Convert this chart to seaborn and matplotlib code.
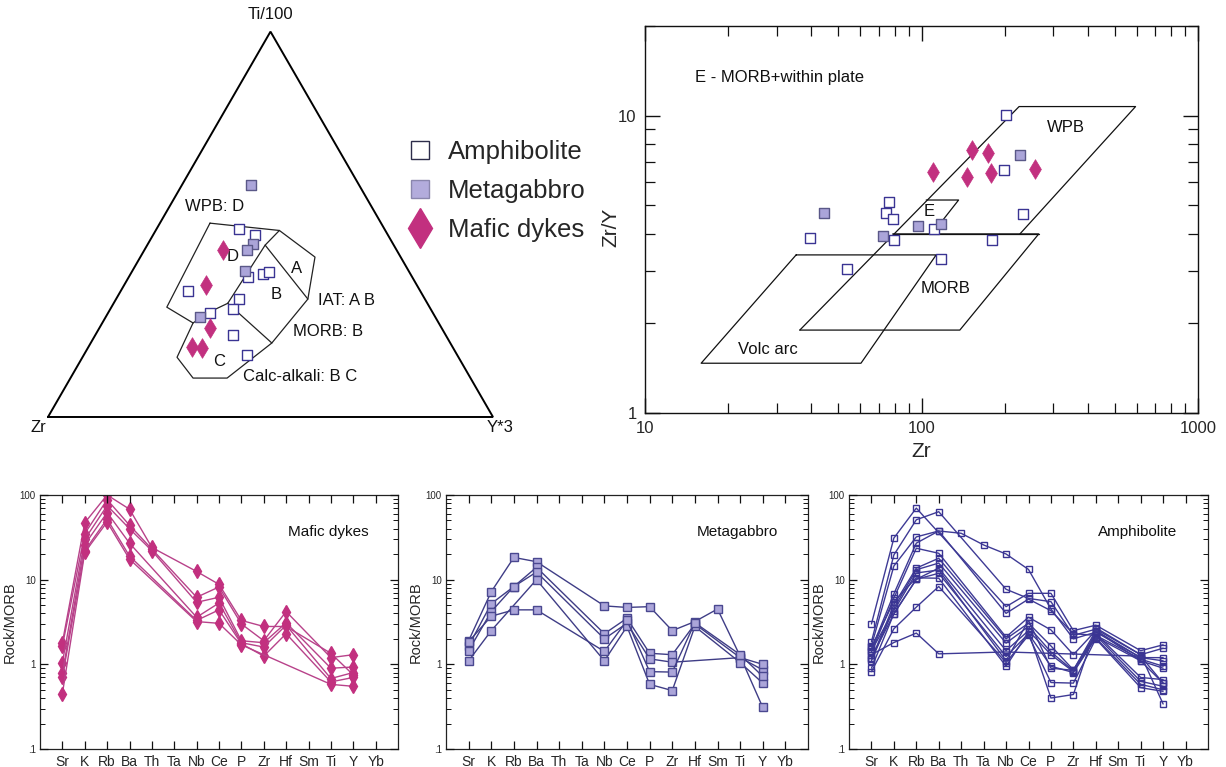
import numpy as np
import pandas as pd
import matplotlib
matplotlib.use("Agg")
import matplotlib.pyplot as plt
from matplotlib.lines import Line2D
from matplotlib.ticker import FixedLocator, FixedFormatter, LogLocator, NullFormatter
import seaborn as sns

sns.set_theme(style="ticks")
plt.rcParams["font.family"] = ["Liberation Sans", "DejaVu Sans"]
plt.rcParams.update({
    "xtick.bottom": True, "xtick.top": True, "ytick.left": True, "ytick.right": True,
    "xtick.direction": "in", "ytick.direction": "in", "axes.axisbelow": False,
})

# ---------------- Ti/100 - Zr - Y*3 ternary (percent) ----------------
amph_ti = [48.9, 47.2, 32.6, 36.2, 37.0, 37.6, 30.5, 27.9, 26.9, 21.2, 16.1]
amph_zr = [32.6, 29.9, 52.2, 36.9, 33.1, 31.5, 41.8, 44.4, 50.1, 47.9, 47.2]
amph_y = [18.5, 22.9, 15.2, 26.9, 29.9, 30.9, 27.7, 27.7, 23.0, 30.9, 36.7]

gab_ti = [60.1, 45.0, 43.4, 37.9, 26.0]
gab_zr = [24.4, 31.4, 33.5, 36.8, 52.8]
gab_y = [15.5, 23.6, 23.1, 25.3, 21.2]

dyke_ti = [43.3, 34.2, 23.1, 18.1, 17.8]
dyke_zr = [39.0, 47.4, 52.0, 58.7, 56.4]
dyke_y = [17.7, 18.4, 24.9, 23.2, 25.8]

# discrimination fields (Ti, Zr, Y)
field_outline = [(50.3, 38.45, 11.25), (48.4, 23.8, 27.8), (41.5, 19.25, 39.25),
                 (30.6, 26.3, 43.1), (19.2, 40.1, 40.7), (10.1, 54.7, 35.2),
                 (10.1, 62.35, 27.55), (15.5, 63.25, 21.25), (24.4, 55.2, 20.4),
                 (28.5, 59.05, 12.45), (50.3, 38.45, 11.25)]
field_d_b = [(48.4, 23.8, 27.8), (44.6, 28.9, 26.5), (29.5, 44.85, 25.65)]
field_c_d = [(29.5, 44.85, 25.65), (27.3, 49.95, 22.75), (24.4, 55.2, 20.4)]
field_c_b = [(29.5, 44.85, 25.65), (19.2, 40.1, 40.7)]
field_a_b = [(44.6, 28.9, 26.5), (30.6, 26.3, 43.1)]

# ---------------- Zr vs Zr/Y ----------------
amph_zr_ppm = [202.8, 199, 76.0, 74.3, 78.7, 39.5, 79.4, 111.1, 53.8, 117.9, 180.4, 232.8]
amph_zry = [10.05, 6.54, 5.12, 4.72, 4.48, 3.89, 3.83, 4.15, 3.06, 3.29, 3.83, 4.65]
gab_zr_ppm = [44.3, 72.4, 97.4, 117.9, 227]
gab_zry = [4.72, 3.93, 4.26, 4.33, 7.38]
dyke_zr_ppm = [110.4, 151.7, 173.3, 145.5, 179, 257]
dyke_zry = [6.46, 7.67, 7.5, 6.21, 6.42, 6.63]

wpb_zr = [36.3, 225.4, 594.6, 227]
wpb_zry = [1.90, 10.72, 10.72, 4.0]
morb_zr = [78.7, 265.5, 137.6, 36.3]
morb_zry = [4.0, 4.0, 1.90, 1.90]
volc_zr = [35.2, 113, 60.4, 15.96, 35.2]
volc_zry = [3.40, 3.40, 1.47, 1.47, 3.40]
e_zr = [104, 136.2, 116]
e_zry = [5.2, 5.2, 4.3]

# ---------------- MORB-normalised spidergrams ----------------
elements = ["Sr", "K", "Rb", "Ba", "Th", "Ta", "Nb", "Ce", "P", "Zr", "Hf", "Sm", "Ti", "Y", "Yb"]
nan = np.nan
dyke_spider = [
    [1.8, 47, 100, 68, 24, nan, 12.5, 8.8, 3.3, 2.8, 2.8, nan, 1.35, 0.75, nan],
    [1.65, 35, 88, 44, 23, nan, 6.2, 8.2, 3.0, 1.9, 4.2, nan, 1.2, 1.3, nan],
    [1.05, 30, 75, 40, 22, nan, 5.4, 6.2, 1.9, 1.8, 3.1, nan, 0.9, 0.93, nan],
    [0.78, 26, 62, 27, nan, nan, 3.6, 5.3, 1.8, 1.6, 2.9, nan, 0.68, 0.8, nan],
    [0.7, 22, 52, 19, nan, nan, 3.3, 4.4, 1.75, 1.25, 2.3, nan, 0.62, 0.7, nan],
    [0.45, 21, 48, 17.5, nan, nan, 3.2, 3.05, 1.7, nan, nan, nan, 0.58, 0.55, nan],
]
gab_spider = [
    [1.9, 7.2, 18.3, 16.3, nan, nan, 4.9, 4.7, 4.8, 2.5, 3.2, 4.5, 1.25, 0.31, nan],
    [1.65, 5.2, 8.3, 14, nan, nan, 2.3, 3.5, 1.35, 1.3, 3.0, nan, 1.2, 0.86, nan],
    [1.45, 4.2, 8.3, 12.3, nan, nan, 2.0, 3.06, 1.16, 1.06, nan, nan, 1.2, 1.0, nan],
    [1.1, 2.5, nan, 10.0, nan, nan, 1.1, 2.8, 0.58, 0.49, 2.8, nan, 1.05, 0.6, nan],
    [1.85, 3.7, 4.4, 4.4, nan, nan, 1.42, 3.3, 0.82, 0.81, 3.1, nan, 1.3, 0.72, nan],
]
amph_spider = [
    [3.0, 31, 70, nan, nan, nan, 4.8, 6.9, 6.9, 2.5, 2.9, nan, 1.45, 1.7, nan],
    [1.85, 19.6, 51, 63.5, nan, nan, 7.7, 6.0, 5.5, 2.2, 2.6, nan, 1.3, 1.55, nan],
    [1.65, 14.5, 32, 37.6, 35.3, 25.7, 20.1, 13.2, 4.5, 2.0, 2.4, nan, 1.2, 1.2, nan],
    [1.5, 6.8, 27, 37.6, nan, nan, 4.0, 5.9, 4.3, 2.3, 2.2, nan, 1.15, 0.95, nan],
    [1.4, 6.05, 23.5, 20.5, nan, nan, 2.1, 3.6, 2.55, 1.3, 2.5, nan, 1.1, 0.6, nan],
    [1.15, 5.05, 13.7, 17.9, nan, nan, 2.0, 3.06, 1.65, 0.86, 2.3, nan, 0.7, 0.66, nan],
    [1.1, 4.6, 13.1, 15.7, nan, nan, 1.78, 2.8, 1.4, 0.84, 2.2, nan, 0.63, 0.55, nan],
    [1.2, 3.95, 10.1, 13.7, nan, nan, 1.45, 2.5, 1.3, 0.82, 2.1, nan, 1.1, 0.9, nan],
    [0.9, 3.95, 10.1, 11.9, nan, nan, 1.24, 2.3, 0.95, 0.8, 2.05, nan, 0.58, 0.5, nan],
    [0.82, 2.63, 4.74, 8.3, nan, nan, 1.05, 2.2, 0.61, 0.6, 2.0, nan, 0.53, 0.48, nan],
    [1.3, 1.81, 2.34, 1.33, nan, nan, 1.4, nan, nan, nan, nan, nan, 1.25, 0.6, nan],
    [1.6, 5.5, 10.5, 10.4, nan, nan, 0.95, 2.4, 0.4, 0.44, 2.7, nan, 1.3, 0.34, nan],
    [1.45, 4.3, 12.0, 13.0, nan, nan, 1.1, 3.3, 0.9, 0.85, 2.5, nan, 1.2, 1.1, nan],
]

DYKE = "#c2307f"
DYKE_LINE = "#b8428a"
GAB_FILL = "#aba5d9"
GAB_EDGE = "#4a4890"
GAB_LINE = "#3f3d86"
AMPH_EDGE = "#3a3493"
AMPH_LINE = "#3e3a95"
INK = "#111111"

W, H = 1226, 767
fig = plt.figure(figsize=(W / 100, H / 100), dpi=100)
fig.patch.set_facecolor("white")


def fig_rect(left, top, right, bottom):
    return [left / W, 1 - bottom / H, (right - left) / W, (bottom - top) / H]


def box_ticks(ax):
    ax.xaxis.set_ticks_position("both")
    ax.yaxis.set_ticks_position("both")
    ax.tick_params(which="both", direction="in", bottom=True, left=True, top=True,
                   right=True, color=INK)


# ---------------- ternary ----------------
SQ3 = np.sqrt(3) / 2


def tern(ti, zr, y):
    ti, zr, y = (np.asarray(v, float) for v in (ti, zr, y))
    tot = ti + zr + y
    return y / tot + 0.5 * ti / tot, SQ3 * ti / tot


axt = fig.add_axes(fig_rect(20, 10, 520, 440))
axt.set_xlim(-0.0629, 1.0607)
axt.set_ylim(-0.0517, 0.9146)
axt.axis("off")
axt.plot([0, 1, 0.5, 0], [0, 0, SQ3, 0], color="black", lw=1.4, solid_joinstyle="miter")
for poly in (field_outline, field_d_b, field_c_d, field_c_b, field_a_b):
    px, py = tern(*zip(*poly))
    axt.plot(px, py, color="#222222", lw=0.9)

tx, ty = tern(amph_ti, amph_zr, amph_y)
sns.scatterplot(x=tx, y=ty, ax=axt, marker="s", s=62, facecolor="white",
                edgecolor=AMPH_EDGE, linewidth=1.0, zorder=3)
tx, ty = tern(gab_ti, gab_zr, gab_y)
sns.scatterplot(x=tx, y=ty, ax=axt, marker="s", s=62, color=GAB_FILL,
                edgecolor="#5a5888", linewidth=1.0, zorder=4)
tx, ty = tern(dyke_ti, dyke_zr, dyke_y)
sns.scatterplot(x=tx, y=ty, ax=axt, marker="d", s=100, color=DYKE,
                edgecolor=DYKE, linewidth=0.5, zorder=4)

lab = dict(fontsize=12, color=INK)
axt.text(0.4989, 0.9034, "Ti/100", ha="center", va="center", **lab)
axt.text(-0.0225, -0.0247, "Zr", ha="center", va="center", **lab)
axt.text(1.0157, -0.0247, "Y*3", ha="center", va="center", **lab)
axt.text(0.3079, 0.4719, "WPB: D", ha="left", va="center", **lab)
axt.text(0.4157, 0.3602, "D", ha="center", va="center", **lab)
axt.text(0.5589, 0.3342, "A", ha="center", va="center", **lab)
axt.text(0.5124, 0.2742, "B", ha="center", va="center", **lab)
axt.text(0.385, 0.1258, "C", ha="center", va="center", **lab)
axt.text(0.6067, 0.2629, "IAT: A B", ha="left", va="center", **lab)
axt.text(0.5506, 0.1917, "MORB: B", ha="left", va="center", **lab)
axt.text(0.4375, 0.0906, "Calc-alkali: B C", ha="left", va="center", **lab)

handles = [
    Line2D([], [], ls="none", marker="s", markersize=13, markerfacecolor="white",
           markeredgecolor="#2d2d4a", markeredgewidth=1.0),
    Line2D([], [], ls="none", marker="s", markersize=13, markerfacecolor="#b3acdc",
           markeredgecolor="#8a86ad", markeredgewidth=1.0),
    Line2D([], [], ls="none", marker="d", markersize=20, markerfacecolor=DYKE,
           markeredgecolor=DYKE),
]
fig.legend(handles, ["Amphibolite", "Metagabbro", "Mafic dykes"], loc="center left",
           bbox_to_anchor=(407 / W, 1 - 191 / H), bbox_transform=fig.transFigure,
           frameon=False, fontsize=18.5, handlelength=1.0, handletextpad=0.6,
           labelspacing=0.6, borderpad=0, borderaxespad=0)

# ---------------- Zr vs Zr/Y ----------------
axz = fig.add_axes(fig_rect(645, 26, 1198, 413))
axz.set_xscale("log")
axz.set_yscale("log")
for xs, ys in ((wpb_zr, wpb_zry), (morb_zr, morb_zry), (volc_zr, volc_zry), (e_zr, e_zry)):
    axz.plot(xs, ys, color=INK, lw=0.9)
axz.plot([morb_zr[0], morb_zr[1]], [morb_zry[0], morb_zry[1]], color=INK, lw=0.9)

sns.scatterplot(x=amph_zr_ppm, y=amph_zry, ax=axz, marker="s", s=62, facecolor="white",
                edgecolor=AMPH_EDGE, linewidth=1.0, zorder=3)
sns.scatterplot(x=gab_zr_ppm, y=gab_zry, ax=axz, marker="s", s=62, color=GAB_FILL,
                edgecolor="#5a5888", linewidth=1.0, zorder=4)
sns.scatterplot(x=dyke_zr_ppm, y=dyke_zry, ax=axz, marker="d", s=100, color=DYKE,
                edgecolor=DYKE, linewidth=0.5, zorder=4)

axz.set_xlim(10, 1000)
axz.set_ylim(1, 20)
axz.xaxis.set_major_locator(FixedLocator([10, 100, 1000]))
axz.xaxis.set_major_formatter(FixedFormatter(["10", "100", "1000"]))
axz.xaxis.set_minor_locator(FixedLocator([m * d for d in (10, 100) for m in range(2, 10)]))
axz.xaxis.set_minor_formatter(NullFormatter())
axz.yaxis.set_major_locator(FixedLocator([1, 10]))
axz.yaxis.set_major_formatter(FixedFormatter(["1", "10"]))
axz.yaxis.set_minor_locator(FixedLocator([m for m in range(2, 10)] + [20]))
axz.yaxis.set_minor_formatter(NullFormatter())
box_ticks(axz)
axz.tick_params(which="major", length=11, width=1.0, labelsize=12, pad=6)
axz.tick_params(which="minor", length=7, width=0.9)
for sp in axz.spines.values():
    sp.set_color(INK)
    sp.set_linewidth(1.0)
axz.set_xlabel("Zr", fontsize=15, labelpad=4)
axz.set_ylabel("Zr/Y", fontsize=15)
axz.yaxis.set_label_coords(-0.045, 0.48)
zt = dict(fontsize=12, color=INK)
axz.text(15.2, 13.4, "E - MORB+within plate", ha="left", va="center", **zt)
axz.text(334, 9.14, "WPB", ha="center", va="center", **zt)
axz.text(122.6, 2.62, "MORB", ha="center", va="center", **zt)
axz.text(27.9, 1.63, "Volc arc", ha="center", va="center", **zt)
axz.text(106.8, 4.74, "E", ha="center", va="center", **zt)


# ---------------- spidergrams ----------------
def spider(rect, rows, title, line_color, marker, ms, mfc, mec):
    ax = fig.add_axes(fig_rect(*rect))
    recs = []
    for i, row in enumerate(rows):
        for j, v in enumerate(row):
            if not np.isnan(v):
                recs.append({"sample": i, "pos": j, "value": v})
    df = pd.DataFrame(recs)
    sns.lineplot(data=df, x="pos", y="value", units="sample", estimator=None, sort=True,
                 color=line_color, lw=1.0, marker=marker, markersize=ms,
                 markerfacecolor=mfc, markeredgecolor=mec, markeredgewidth=1.0,
                 ax=ax, legend=False)
    ax.set_yscale("log")
    ax.set_ylim(0.1, 100)
    ax.set_xlim(-1, len(elements))
    ax.set_xticks(range(len(elements)))
    ax.set_xticklabels(elements)
    ax.yaxis.set_major_locator(FixedLocator([0.1, 1, 10, 100]))
    ax.yaxis.set_major_formatter(FixedFormatter([".1", "1", "10", "100"]))
    ax.yaxis.set_minor_locator(LogLocator(base=10, subs=np.arange(2, 10), numticks=10))
    ax.yaxis.set_minor_formatter(NullFormatter())
    box_ticks(ax)
    ax.tick_params(which="major", length=6, width=0.9)
    ax.tick_params(which="minor", length=3.5, width=0.7)
    ax.tick_params(axis="x", labelsize=10, pad=4)
    ax.tick_params(axis="y", labelsize=7, pad=3)
    for sp in ax.spines.values():
        sp.set_color("#222222")
        sp.set_linewidth(0.9)
    ax.set_xlabel("")
    ax.set_ylabel("Rock/MORB", fontsize=10.5, labelpad=2)
    ax.text(0.805, 0.855, title, transform=ax.transAxes, ha="center", va="center",
            fontsize=11, color=INK)
    return ax


spider((40, 495, 398, 749), dyke_spider, "Mafic dykes", DYKE_LINE, "d", 7.5, DYKE, DYKE)
spider((446, 495, 808, 749), gab_spider, "Metagabbro", GAB_LINE, "s", 5.5, GAB_FILL, GAB_EDGE)
spider((849, 495, 1208, 749), amph_spider, "Amphibolite", AMPH_LINE, "s", 5.0, "none", AMPH_EDGE)

fig.savefig("out.png", dpi=100, facecolor="white")
